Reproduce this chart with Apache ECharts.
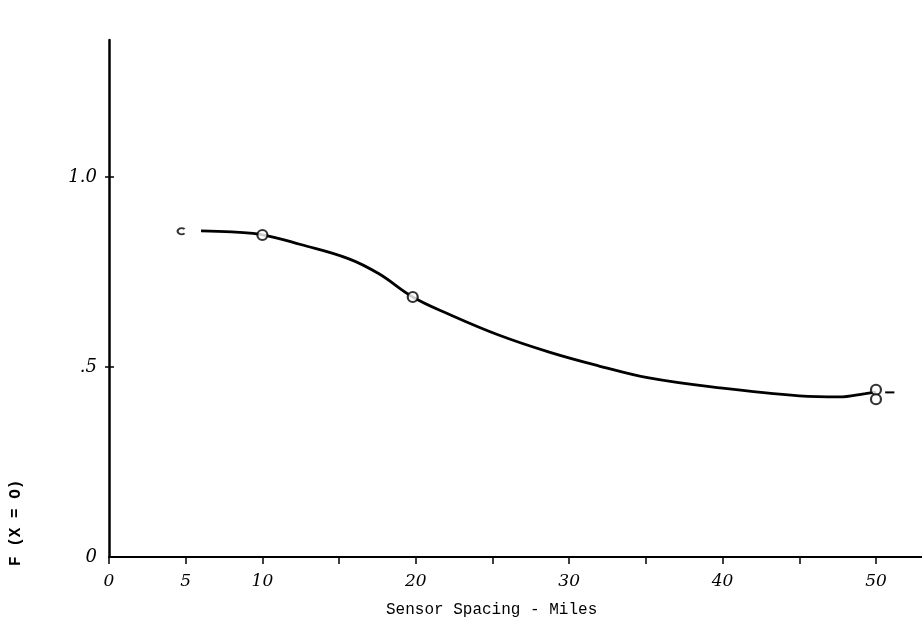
<!DOCTYPE html>
<html>
<head>
<meta charset="utf-8">
<script src="https://cdn.jsdelivr.net/npm/echarts@6/dist/echarts.min.js"></script>
<style>html,body{margin:0;padding:0;background:#fff;}#c{width:922px;height:633px;}</style>
</head>
<body>
<div id="c"></div>
<script>
// ---- data ----
const curveX = [6.0, 8.0, 10.1, 12.5, 15.6, 17.6, 19.8, 22.2, 25.4, 28.7, 31.9, 35.2, 39.8, 45.0, 47.6, 49.3, 50.0];
const curveY = [0.858, 0.855, 0.847, 0.822, 0.785, 0.745, 0.684, 0.638, 0.584, 0.539, 0.503, 0.471, 0.445, 0.424, 0.421, 0.430, 0.434];
const pointX = [10.0, 19.8, 50.0, 50.0];
const pointY = [0.847, 0.684, 0.440, 0.415];
const partialX = [4.7];
const partialY = [0.857];
const dashX = [50.6, 51.2];
const dashY = [0.433, 0.433];
const xTickValues = [0, 5, 10, 15, 20, 25, 30, 35, 40, 45, 50];
const xLabelValues = [0, 5, 10, 20, 30, 40, 50];
const yTickValues = [0.5, 1.0];
const yLabelValues = [0, 0.5, 1.0];
const yLabelText = ['0', '.5', '1.0'];

const zip = (a, b) => a.map((v, i) => [v, b[i]]);
const chart = echarts.init(document.getElementById('c'));
const handFont = 'DejaVu Serif';
chart.setOption({
  animation: false,
  backgroundColor: '#fff',
  grid: { left: 109, right: 0, top: 40, bottom: 76 },
  xAxis: {
    type: 'value', min: 0, max: 53,
    axisLine: { show: true, lineStyle: { color: '#000', width: 2 } },
    axisTick: { show: true, customValues: xTickValues, length: 7, lineStyle: { color: '#000', width: 1.5 } },
    axisLabel: { customValues: xLabelValues, color: '#000', fontFamily: handFont, fontStyle: 'italic', fontSize: 17, margin: 16 },
    splitLine: { show: false }
  },
  yAxis: [{
    type: 'value', min: 0, max: 1.36,
    axisLine: { show: true, lineStyle: { color: '#000', width: 2.5 } },
    axisTick: { show: true, customValues: yTickValues, length: 4, lineStyle: { color: '#000', width: 1.5 } },
    axisLabel: {
      customValues: yLabelValues, color: '#000', fontFamily: handFont, fontStyle: 'italic', fontSize: 18, margin: 12,
      formatter: v => yLabelText[yLabelValues.indexOf(v)] ?? ''
    },
    splitLine: { show: false }
  }, {
    type: 'value', min: 0, max: 1.36, position: 'left', offset: 0,
    axisLine: { show: false },
    axisTick: { show: true, inside: true, customValues: yTickValues, length: 5, lineStyle: { color: '#000', width: 1.5 } },
    axisLabel: { show: false },
    splitLine: { show: false }
  }],
  graphic: [
    { type: 'text', left: 386, top: 602, style: { text: 'Sensor Spacing - Miles', font: '16px "Liberation Mono"', fill: '#000' } },
    { type: 'text', x: 8, y: 566, rotation: Math.PI / 2, style: { text: 'F (X = O)', font: 'bold 16px "Liberation Mono"', fill: '#000' } }
  ],
  series: [
    { type: 'line', data: zip(curveX, curveY), smooth: 0.4, symbol: 'none', lineStyle: { color: '#000', width: 2.8 } },
    { type: 'line', yAxisIndex: 1, data: zip(dashX, dashY), symbol: 'none', lineStyle: { color: '#000', width: 2 } },
    { type: 'scatter', data: zip(pointX, pointY), symbol: 'circle', symbolSize: 10,
      itemStyle: { color: '#fff', borderColor: '#000', borderWidth: 2.2 }, z: 5 },
    { type: 'scatter', data: zip(partialX, partialY), symbol: 'path://M14 3 A7 7 0 1 0 14 13', symbolSize: [7, 6],
      itemStyle: { color: 'rgba(0,0,0,0)', borderColor: '#000', borderWidth: 2 }, z: 5 }
  ]
});
</script>
</body>
</html>
